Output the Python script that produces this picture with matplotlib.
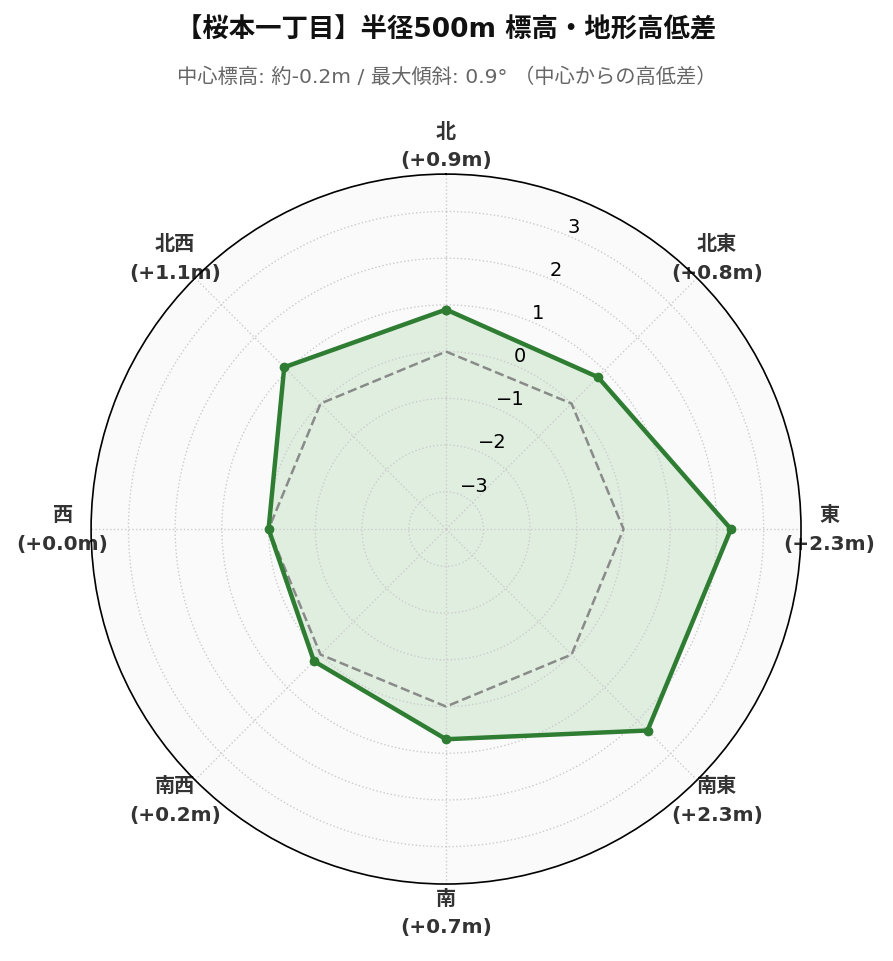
import numpy as np
import matplotlib
matplotlib.use("Agg")
import matplotlib.pyplot as plt

plt.rcParams['font.family'] = ['DejaVu Sans', 'Noto Sans CJK JP']

directions = ['北', '北東', '東', '南東', '南', '南西', '西', '北西']
diffs = [0.9, 0.8, 2.3, 2.3, 0.7, 0.2, 0.0, 1.1]
rticks = [-3, -2, -1, 0, 1, 2, 3]

n = len(directions)
angles = np.linspace(0, 2 * np.pi, n, endpoint=False)
ang_c = np.append(angles, angles[0])
val_c = np.append(diffs, diffs[0])
zero_c = np.zeros(n + 1)

fig = plt.figure(figsize=(8.93, 9.62), dpi=100)
ax = fig.add_axes([0.102, 0.080, 0.795, 0.738], projection='polar')
ax.set_theta_zero_location('N')
ax.set_theta_direction(-1)
ax.set_facecolor('#fafafa')

lim = max(abs(v) for v in diffs) + 1.5
ax.set_ylim(-lim, lim)

ax.plot(ang_c, zero_c, color='gray', linestyle='--', linewidth=1.8, alpha=0.9)
ax.fill(ang_c, val_c, color='#4caf50', alpha=0.15)
ax.plot(ang_c, val_c, color='#2e7d32', linewidth=3.2, marker='o', markersize=6)

ax.set_xticks(angles)
ax.set_xticklabels([f'{d}\n({v:+.1f}m)' for d, v in zip(directions, diffs)],
                   fontsize=14.5, fontweight='bold', color='#333333',
                   linespacing=1.65)
ax.tick_params(axis='x', pad=10)
ax.set_yticks(rticks)
ax.set_yticklabels([f'{t}'.replace('-', '\u2212') for t in rticks], fontsize=14)
ax.set_rlabel_position(22.5)
ax.grid(True, color='#cccccc', linestyle=':', linewidth=1.0)
ax.spines['polar'].set_color('black')
ax.spines['polar'].set_linewidth(1.2)

fig.text(0.5, 0.968, '【桜本一丁目】半径500m 標高・地形高低差', ha='center', va='center',
         fontsize=19, fontweight='bold', color='#111111')
fig.text(0.5, 0.920, '中心標高: 約-0.2m / 最大傾斜: 0.9° （中心からの高低差）', ha='center',
         va='center', fontsize=14.6, color='#666666')

fig.savefig('out.png', dpi=100)
